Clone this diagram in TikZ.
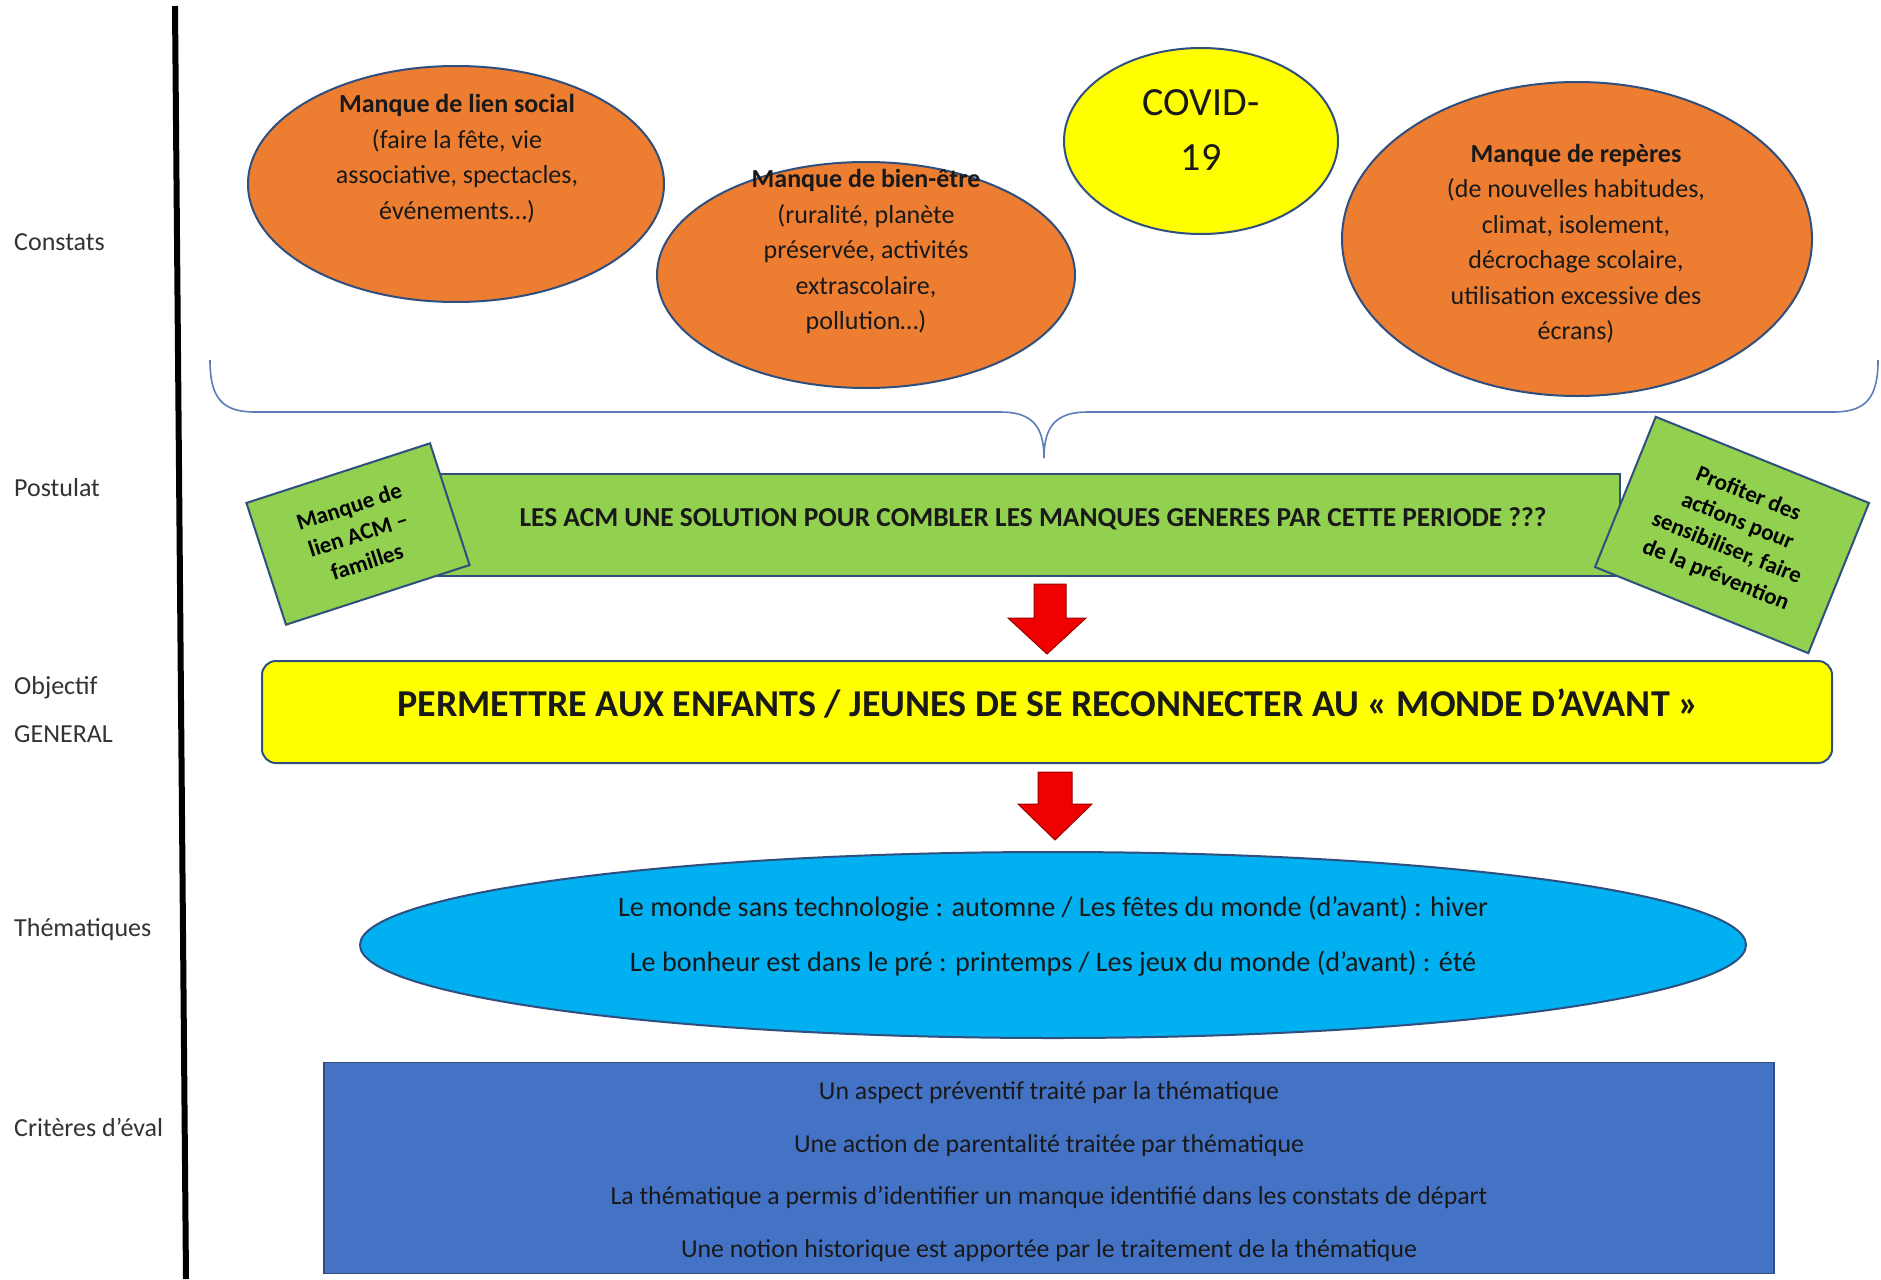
\documentclass[tikz,border=0pt]{standalone}
\usepackage{fontspec}
\setmainfont{Carlito}
\usetikzlibrary{shapes.geometric}
\definecolor{orangeF}{HTML}{ED7D31}
\definecolor{yellowF}{HTML}{FFFF00}
\definecolor{greenF}{HTML}{92D050}
\definecolor{cyanF}{HTML}{00B0F0}
\definecolor{blueF}{HTML}{4472C4}
\definecolor{outlineC}{HTML}{2F4F7F}
\definecolor{braceC}{HTML}{5B7DB8}
\definecolor{labelC}{HTML}{333333}
\definecolor{redF}{HTML}{F00000}
\newcommand{\fs}[2]{\fontsize{#1}{#2}\selectfont}
\begin{document}
\begin{tikzpicture}[x=1pt,y=-1pt,
  lbl/.style={anchor=west,text=labelC,font=\fs{26}{48},align=left,inner sep=0},
  oval/.style={ellipse,draw=outlineC,line width=2,inner sep=0},
  txt/.style={align=center,inner sep=0,text=black!90},
  gbox/.style={draw=outlineC,line width=2,fill=greenF,inner sep=0},
  redarrow/.style={fill=redF,draw=red!60!black,line width=1}]
\useasboundingbox[fill=white] (0,0) rectangle (1881,1279);

% vertical rule
\coordinate (vt) at (175,6);
\coordinate (vb) at (186,1279);
\draw[line width=6] (vt) -- (vb);

% left labels
\node[lbl] (lc) at (14,242) {Constats};
\node[lbl] (lp) at (14,488) {Postulat};
\node[lbl] (lo) at (14,710) {Objectif\\GENERAL};
\node[lbl] (lt) at (14,930) {Thématiques};
\node[lbl] (lk) at (14,1127) {Critères d’éval};

% constats ellipses
\node[oval,fill=orangeF,minimum width=416,minimum height=236] (e1) at (456,184) {};
\node[txt,font=\fs{26}{35.5}] (t1) at (457,158.5) {\textbf{Manque de lien social}\\(faire la fête, vie\\associative, spectacles,\\événements…)};
\node[oval,fill=orangeF,minimum width=418,minimum height=226] (e2) at (866,275) {};
\node[txt,font=\fs{26}{35.5}] (t2) at (866,251.5) {\textbf{Manque de bien-être}\\(ruralité, planète\\préservée, activités\\extrascolaire,\\pollution…)};
\node[oval,fill=yellowF,minimum width=274,minimum height=186] (e3) at (1201,141) {};
\node[txt,font=\fs{40}{55}] (t3) at (1201,130) {COVID-\\19};
\node[oval,fill=orangeF,minimum width=470,minimum height=314] (e4) at (1577,239) {};
\node[txt,font=\fs{26}{35.5}] (t4) at (1576,243.5) {\textbf{Manque de repères}\\(de nouvelles habitudes,\\climat, isolement,\\décrochage scolaire,\\utilisation excessive des\\écrans)};

% brace
\coordinate (bl) at (210,360);
\coordinate (bt) at (1044,458);
\coordinate (br) at (1878,360);
\draw[braceC,line width=1.6] (bl) .. controls (210,398) and (222,412) .. (255,412) -- (1000,412)
  .. controls (1030,412) and (1044,424) .. (bt)
  .. controls (1044,424) and (1058,412) .. (1088,412) -- (1833,412)
  .. controls (1866,412) and (1878,398) .. (br);

% postulat
\node[gbox,minimum width=1190,minimum height=102] (pb) at (1025,525) {};
\node[txt,font=\bfseries\fs{27.4}{30}] (pt) at (1033,518.5) {LES ACM UNE SOLUTION POUR COMBLER LES MANQUES GENERES PAR CETTE PERIODE ???};
\node[gbox,rotate=18,minimum width=193,minimum height=128,align=center,font=\bfseries\fs{23}{29}] (pl) at (358,534) {Manque de\\lien ACM –\\familles};
\node[gbox,rotate=-22,minimum width=230,minimum height=162,align=center,font=\bfseries\fs{23}{29}] (pr) at (1732,535) {Profiter des\\actions pour\\sensibiliser, faire\\de la prévention};

% arrow 1
\draw[redarrow] (1034,584) -- (1066,584) -- (1066,618) -- (1086,618) -- (1047,654) -- (1008,618) -- (1034,618) -- cycle;

% objectif
\node[draw=outlineC,line width=2,fill=yellowF,rounded corners=14,minimum width=1570,minimum height=102,inner sep=0] (ob) at (1047,712) {};
\node[txt,font=\bfseries\fs{38}{44}] (ot) at (1048,704) {PERMETTRE AUX ENFANTS / JEUNES DE SE RECONNECTER AU « MONDE D’AVANT »};

% arrow 2
\draw[redarrow] (1038,772) -- (1072,772) -- (1072,804) -- (1092,804) -- (1055,840) -- (1018,804) -- (1038,804) -- cycle;

% thematiques
\node[oval,fill=cyanF,minimum width=1386,minimum height=186] (te) at (1053,945) {};
\node[txt,font=\fs{28.2}{55}] (tt) at (1053,936.5) {Le monde sans technologie : automne / Les fêtes du monde (d’avant) : hiver\\Le bonheur est dans le pré : printemps / Les jeux du monde (d’avant) : été};

% criteres
\node[draw=outlineC,line width=1.5,fill=blueF,minimum width=1450,minimum height=211,inner sep=0] (cb) at (1049,1168) {};
\node[txt,font=\fs{25.8}{52.7}] (ct) at (1049,1171.5) {Un aspect préventif traité par la thématique\\Une action de parentalité traitée par thématique\\La thématique a permis d’identifier un manque identifié dans les constats de départ\\Une notion historique est apportée par le traitement de la thématique};
\end{tikzpicture}
\end{document}
